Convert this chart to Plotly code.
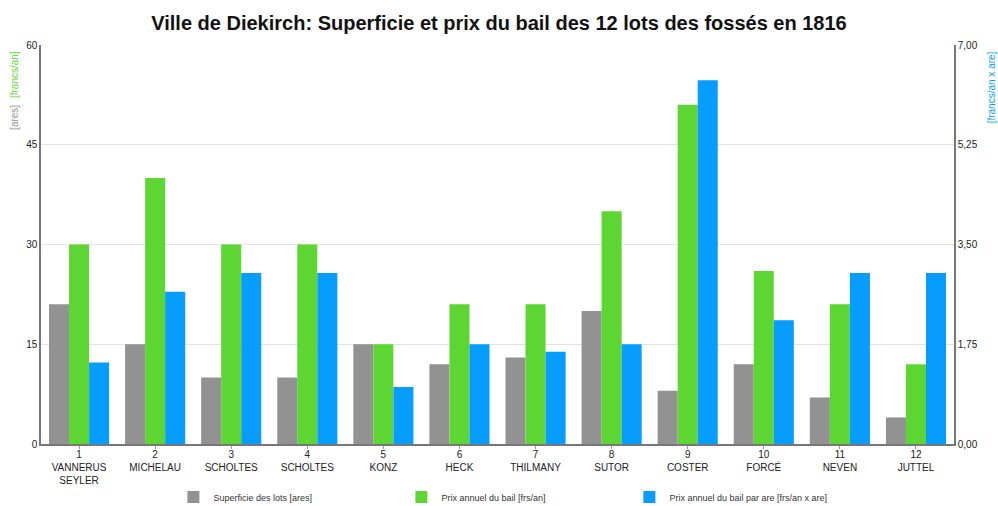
import plotly.graph_objects as go

lots = ["1", "2", "3", "4", "5", "6", "7", "8", "9", "10", "11", "12"]
owners = ["VANNERUS<br>SEYLER", "MICHELAU", "SCHOLTES", "SCHOLTES", "KONZ", "HECK",
          "THILMANY", "SUTOR", "COSTER", "FORCÉ", "NEVEN", "JUTTEL"]
superficie = [21, 15, 10, 10, 15, 12, 13, 20, 8, 12, 7, 4]
prix = [30, 40, 30, 30, 15, 21, 21, 35, 51, 26, 21, 12]
prix_par_are = [1.43, 2.67, 3.0, 3.0, 1.0, 1.75, 1.62, 1.75, 6.38, 2.17, 3.0, 3.0]
left_ticks = [0, 15, 30, 45, 60]
right_ticks = [0, 1.75, 3.5, 5.25, 7.0]
right_labels = ["0,00", "1,75", "3,50", "5,25", "7,00"]

cats = [f"{n}<br>{o}" for n, o in zip(lots, owners)]

GRAY = "#929292"
GREEN = "#5DD633"
BLUE = "#069DFF"

fig = go.Figure()
fig.add_trace(go.Bar(x=cats, y=superficie, name="Superficie des lots [ares]",
                     marker=dict(color=GRAY, line=dict(width=0)), offsetgroup="a", yaxis="y"))
fig.add_trace(go.Bar(x=cats, y=prix, name="Prix annuel du bail [frs/an]",
                     marker=dict(color=GREEN, line=dict(width=0)), offsetgroup="b", yaxis="y"))
fig.add_trace(go.Bar(x=cats, y=prix_par_are, name="Prix annuel du bail par are [frs/an x are]",
                     marker=dict(color=BLUE, line=dict(width=0)), offsetgroup="c", yaxis="y2"))

fig.update_layout(
    width=998, height=506,
    margin=dict(l=41, r=44, t=45, b=62, autoexpand=False),
    paper_bgcolor="white", plot_bgcolor="white",
    font=dict(family="Liberation Sans, Arial, sans-serif", color="#222", size=10),
    title=dict(text="<b>Ville de Diekirch: Superficie et prix du bail des 12 lots des fossés en 1816</b>",
               x=0.5, xanchor="center", y=0.955, yanchor="middle",
               font=dict(size=20, color="#111")),
    barmode="group", bargap=0.21, bargroupgap=0,
    xaxis=dict(showline=True, linecolor="#777", linewidth=1.5, ticks="outside",
               ticklen=3, tickcolor="#999", tickfont=dict(size=10, color="#222"),
               showgrid=False, ticklabelstandoff=-3),
    yaxis=dict(range=[0, 60], tickvals=left_ticks, showline=True, linecolor="#777",
               linewidth=1.5, gridcolor="#e3e3e3", gridwidth=1, ticks="",
               tickfont=dict(size=10, color="#222"), zeroline=False),
    yaxis2=dict(range=[0, 7], tickvals=right_ticks, ticktext=right_labels, overlaying="y",
                side="right", showline=True, linecolor="#777", linewidth=1.5,
                showgrid=False, ticks="", tickfont=dict(size=10, color="#222"), zeroline=False),
    legend=dict(orientation="h", x=0.145, xanchor="left", y=-0.133, yanchor="middle",
                font=dict(size=9, color="#333"), itemwidth=30, entrywidth=183,
                traceorder="normal"),
    showlegend=True,
)

fig.add_annotation(text="[francs/an]", xref="paper", yref="paper", x=-0.029, y=0.99,
                   xanchor="center", yanchor="top", textangle=-90, showarrow=False,
                   font=dict(size=10, color=GREEN))
fig.add_annotation(text="[ares]", xref="paper", yref="paper", x=-0.029, y=0.855,
                   xanchor="center", yanchor="top", textangle=-90, showarrow=False,
                   font=dict(size=10, color=GRAY))
fig.add_annotation(text="[francs/an x are]", xref="paper", yref="paper", x=1.042, y=0.99,
                   xanchor="center", yanchor="top", textangle=-90, showarrow=False,
                   font=dict(size=10, color=BLUE))

fig.write_html("out.html", config={"displayModeBar": False},
               post_script="document.body.style.margin='0';")
